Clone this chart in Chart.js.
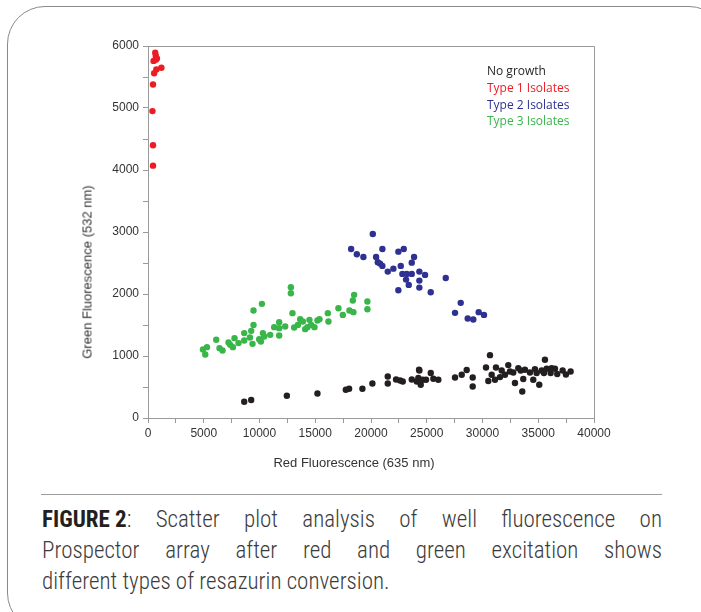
<!DOCTYPE html>
<html>
<head>
<meta charset="utf-8">
<script src="https://cdn.jsdelivr.net/npm/chart.js@4/dist/chart.umd.min.js"></script>
<style>
  html, body { margin: 0; padding: 0; background: #fff; }
  body { width: 701px; height: 612px; position: relative; overflow: hidden; font-family: "Liberation Sans", Arial, sans-serif; }
  .card { position: absolute; left: 7px; top: 6px; width: 720px; height: 625px; border: 1.3px solid #8c8888; border-radius: 38px; box-sizing: border-box; }
  canvas { position: absolute; left: 0; top: 0; }
  .ytitle { position: absolute; left: 87px; top: 272px; transform: translate(-50%, -50%) rotate(-90deg); white-space: nowrap; font-size: 13px; color: #333; }
  .xtitle { position: absolute; left: 354px; top: 462px; transform: translate(-50%, -50%); white-space: nowrap; font-size: 13px; color: #333; }
  .legend { position: absolute; left: 487px; top: 63px; font-family: "Open Sans", sans-serif; font-size: 12px; line-height: 16.8px; }
  .rule { position: absolute; left: 41px; top: 494px; width: 621px; height: 0; border-top: 1px solid #a09c9c; }
  .caption { position: absolute; left: 42px; top: 504px; width: 620px; font-family: "Liberation Sans Narrow", "Roboto Condensed", Roboto, sans-serif; font-weight: 300; font-size: 23px; line-height: 31px; color: #3c3c3c; }
  .caption div { text-align: justify; text-align-last: justify; white-space: nowrap; }
  .caption div.last { text-align-last: left; }
  .caption b { display: inline-block; font-weight: bold; color: #231f20; }
</style>
</head>
<body>
<div class="card"></div>
<canvas id="scatter" width="701" height="480"></canvas>
<div class="ytitle">Green Fluorescence (532 nm)</div>
<div class="xtitle">Red Fluorescence (635 nm)</div>
<div class="legend" id="legend"></div>
<div class="rule"></div>
<div class="caption">
  <div><b>FIGURE 2</b>: Scatter plot analysis of well fluorescence on</div>
  <div>Prospector array after red and green excitation shows</div>
  <div class="last">different types of resazurin conversion.</div>
</div>

<script>
// séries
const seriesNames = ['No growth', 'Type 1 Isolates', 'Type 2 Isolates', 'Type 3 Isolates'];
const seriesColors = ['#231f20', '#ed1c24', '#2e3192', '#39b54a'];

const noGrowthX = [8629, 9256, 12455, 15197, 17742, 18038, 19229, 20125, 21505, 21505, 22249, 22608, 22849, 23656, 24104, 24310,
  24337, 24247, 24462, 24642, 24937, 25358, 25591, 26039, 27536, 28136, 28584, 29122, 29122, 30672, 30314, 30520, 30824, 31120,
  31210, 31568, 31720, 32016, 32312, 32464, 32760, 32912, 33208, 33423, 33566, 33656, 33808, 34256, 34552, 34704, 34857, 35090,
  35305, 35601, 35511, 35753, 36111, 36201, 36497, 36703, 37186, 37482, 37903];
const noGrowthY = [262, 290, 359, 396, 456, 472, 472, 557, 670, 557, 622, 605, 589, 622, 589, 778,
  766, 644, 536, 617, 617, 725, 633, 617, 654, 697, 773, 654, 509, 1014, 815, 596, 697, 617,
  815, 660, 766, 697, 853, 750, 734, 564, 805, 766, 428, 628, 778, 734, 617, 789, 725, 536,
  766, 939, 725, 794, 725, 805, 794, 709, 766, 702, 750];

const type1X = [650, 700, 800, 500, 700, 1200, 750, 550, 450, 400, 450, 450];
const type1Y = [5890, 5840, 5800, 5760, 5780, 5650, 5620, 5560, 5380, 4950, 4400, 4070];

const type2X = [20161, 18217, 18728, 19319, 21022, 22455, 22939, 20457, 20609, 20815, 21022, 21505, 22007, 22670, 23862, 23656,
  22814, 23208, 23656, 23145, 23387, 24337, 24848, 24337, 24337, 22455, 25358, 26703, 28047, 27536, 28674, 29176, 29659, 30134];
const type2Y = [2968, 2726, 2641, 2597, 2726, 2683, 2726, 2597, 2512, 2490, 2453, 2361, 2409, 2453, 2597, 2506,
  2324, 2324, 2324, 2232, 2147, 2361, 2308, 2216, 2103, 2061, 2029, 2259, 1857, 1696, 1604, 1588, 1707, 1663];

const type3X = [4928, 5134, 5287, 6120, 6416, 6685, 7222, 7375, 7616, 7760, 8118, 8629, 8629, 9140, 9256, 9373, 9462, 9462,
  9973, 10125, 10305, 10421, 10215, 10959, 11317, 11765, 11765, 11765, 12303, 12814, 12814, 12957, 13109, 13441, 13647, 13889,
  14095, 14301, 14480, 14633, 14928, 15197, 15376, 16129, 16183, 17079, 17473, 18065, 18423, 18369, 18486, 19677, 19677];
const type3Y = [1104, 1023, 1143, 1261, 1127, 1089, 1217, 1180, 1143, 1288, 1208, 1369, 1250, 1298, 1406, 1196, 1502, 1733,
  1272, 1234, 1369, 1314, 1841, 1341, 1465, 1546, 1449, 1330, 1475, 2109, 2013, 1691, 1459, 1502, 1594, 1556,
  1433, 1465, 1583, 1502, 1465, 1572, 1594, 1691, 1556, 1771, 1663, 1733, 1707, 1894, 1986, 1878, 1755];

const xMax = 40000, xStep = 2500, xLabelStep = 5000;
const yMax = 6000, yStep = 500, yLabelStep = 1000;

function toPoints(xs, ys) {
  return xs.map((x, i) => ({ x: x, y: ys[i] }));
}

// légende en texte coloré
const legendEl = document.getElementById('legend');
seriesNames.forEach((name, i) => {
  const d = document.createElement('div');
  d.textContent = name;
  d.style.color = seriesColors[i];
  legendEl.appendChild(d);
});

const frame = {
  id: 'frame',
  afterDraw(chart) {
    const a = chart.chartArea, c = chart.ctx;
    c.save();
    c.strokeStyle = '#9a9a9a';
    c.lineWidth = 1;
    c.beginPath();
    c.moveTo(a.left, a.top + 0.5);
    c.lineTo(a.right + 0.5, a.top + 0.5);
    c.lineTo(a.right + 0.5, a.bottom);
    c.stroke();
    c.restore();
  }
};

const pointStyle = (color) => ({
  backgroundColor: color, borderWidth: 0, pointRadius: 3.2, pointHoverRadius: 3.2
});

new Chart(document.getElementById('scatter').getContext('2d'), {
  type: 'scatter',
  data: {
    datasets: [
      { label: seriesNames[3], data: toPoints(type3X, type3Y), ...pointStyle(seriesColors[3]) },
      { label: seriesNames[2], data: toPoints(type2X, type2Y), ...pointStyle(seriesColors[2]) },
      { label: seriesNames[0], data: toPoints(noGrowthX, noGrowthY), ...pointStyle(seriesColors[0]) },
      { label: seriesNames[1], data: toPoints(type1X, type1Y), ...pointStyle(seriesColors[1]) }
    ]
  },
  options: {
    responsive: false,
    animation: false,
    layout: { padding: { top: 46, right: 107, left: 60, bottom: 0 } },
    plugins: { legend: { display: false }, tooltip: { enabled: false } },
    scales: {
      x: {
        type: 'linear', min: 0, max: xMax,
        ticks: {
          stepSize: xStep, autoSkip: false, maxRotation: 0, color: '#333', padding: 3,
          font: { family: 'Liberation Sans', size: 12 },
          callback: v => (v % xLabelStep === 0 ? v : '')
        },
        grid: { drawOnChartArea: false, tickLength: 5, color: '#9a9a9a' },
        border: { color: '#9a9a9a' },
        afterFit: s => { s.height = 62; }
      },
      y: {
        type: 'linear', min: 0, max: yMax,
        ticks: {
          stepSize: yStep, autoSkip: false, color: '#333', padding: 4,
          font: { family: 'Liberation Sans', size: 12 },
          callback: v => (v % yLabelStep === 0 ? v : '')
        },
        grid: { drawOnChartArea: false, tickLength: 5, color: '#9a9a9a' },
        border: { color: '#9a9a9a' },
        afterFit: s => { s.width = 88; }
      }
    }
  },
  plugins: [frame]
});
</script>
</body>
</html>
